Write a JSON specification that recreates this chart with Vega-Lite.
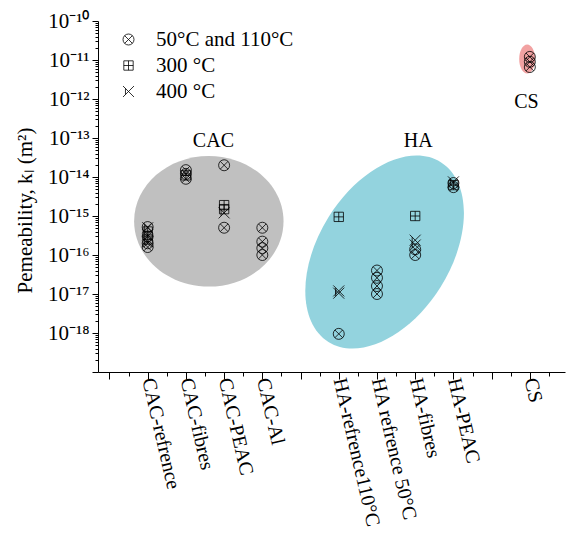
{
  "$schema": "https://vega.github.io/schema/vega-lite/v6.json",
  "autosize": "none",
  "padding": {"left": 98, "top": 21, "right": 1, "bottom": 162},
  "width": 467,
  "height": 351,
  "background": "white",
  "config": {
    "view": {"stroke": null},
    "font": "Liberation Serif",
    "axis": {"grid": false, "domainColor": "black", "tickColor": "black", "labelColor": "black", "titleColor": "black", "labelFont": "Liberation Serif", "titleFont": "Liberation Serif", "domainWidth": 1, "tickWidth": 1}
  },
  "encoding": {
    "x": {
      "field": "pos", "type": "quantitative",
      "scale": {"domain": [-0.3, 11.92], "nice": false, "zero": false},
      "axis": {
        "title": null,
        "values": [0, 0.5, 1, 1.5, 2, 2.5, 3, 3.5, 4, 4.5, 5, 5.5, 6, 6.5, 7, 7.5, 8, 8.5, 9, 9.5, 10, 10.5, 11, 11.5],
        "tickSize": {"condition": {"test": "datum.value % 1 === 0", "value": 7}, "value": 4},
        "labelExpr": "datum.value === 1 ? 'CAC-refrence' : datum.value === 2 ? 'CAC-fibres' : datum.value === 3 ? 'CAC-PEAC' : datum.value === 4 ? 'CAC-Al' : datum.value === 6 ? 'HA-refrence110°C' : datum.value === 7 ? 'HA refrence 50°C' : datum.value === 8 ? 'HA-fibres' : datum.value === 9 ? 'HA-PEAC' : datum.value === 11 ? 'CS' : ''",
        "labelAngle": 77,
        "labelAlign": "left",
        "labelBaseline": "middle",
        "labelPadding": -1,
        "labelFontSize": 20,
        "labelOverlap": false,
        "labelFlush": false
      }
    },
    "y": {
      "field": "k", "type": "quantitative",
      "scale": {"type": "log", "domain": [1e-19, 1e-10], "nice": false},
      "axis": {
        "title": "Pemeability, kₗ (m²)",
        "titleFontSize": 21,
        "titleFontWeight": "normal",
        "titlePadding": 12,
        "titleY": 189,
        "values": [1e-19, 2e-19, 3e-19, 4e-19, 5e-19, 6e-19, 7e-19, 8e-19, 9e-19,
                   1e-18, 2e-18, 3e-18, 4e-18, 5e-18, 6e-18, 7e-18, 8e-18, 9e-18,
                   1e-17, 2e-17, 3e-17, 4e-17, 5e-17, 6e-17, 7e-17, 8e-17, 9e-17,
                   1e-16, 2e-16, 3e-16, 4e-16, 5e-16, 6e-16, 7e-16, 8e-16, 9e-16,
                   1e-15, 2e-15, 3e-15, 4e-15, 5e-15, 6e-15, 7e-15, 8e-15, 9e-15,
                   1e-14, 2e-14, 3e-14, 4e-14, 5e-14, 6e-14, 7e-14, 8e-14, 9e-14,
                   1e-13, 2e-13, 3e-13, 4e-13, 5e-13, 6e-13, 7e-13, 8e-13, 9e-13,
                   1e-12, 2e-12, 3e-12, 4e-12, 5e-12, 6e-12, 7e-12, 8e-12, 9e-12,
                   1e-11, 2e-11, 3e-11, 4e-11, 5e-11, 6e-11, 7e-11, 8e-11, 9e-11, 1e-10],
        "tickSize": {"condition": {"test": "abs(log(datum.value)/LN10 - round(log(datum.value)/LN10)) < 0.01", "value": 6}, "value": 3},
        "labelExpr": "abs(log(datum.value)/LN10 - round(log(datum.value)/LN10)) < 0.01 && datum.value > 5e-19 ? '10⁻' + substring('⁰¹²³⁴⁵⁶⁷⁸⁹', floor(-round(log(datum.value)/LN10)/10), floor(-round(log(datum.value)/LN10)/10) + 1) + substring('⁰¹²³⁴⁵⁶⁷⁸⁹', (-round(log(datum.value)/LN10)) % 10, (-round(log(datum.value)/LN10)) % 10 + 1) : ''",
        "labelFontSize": 21,
        "labelPadding": 3,
        "labelOverlap": false,
        "labelFlush": false
      }
    }
  },
  "layer": [
    {
      "data": {"values": [{"group": "CAC", "pos": 2.6, "k": 7.3e-16}]},
      "mark": {"type": "point", "filled": true, "color": "#c0c0c0", "opacity": 1, "strokeWidth": 0, "size": 22320,
        "shape": "M1,0C1,0.483,0.552,0.874,0,0.874C-0.552,0.874,-1,0.483,-1,0C-1,-0.483,-0.552,-0.874,0,-0.874C0.552,-0.874,1,-0.483,1,0Z"}
    },
    {
      "data": {"values": [{"group": "HA", "pos": 7.2, "k": 1.19e-16}]},
      "mark": {"type": "point", "filled": true, "color": "#93d3de", "opacity": 1, "strokeWidth": 0, "size": 44944, "angle": 302,
        "shape": "M1,0C1,0.344,0.552,0.623,0,0.623C-0.552,0.623,-1,0.344,-1,0C-1,-0.344,-0.552,-0.623,0,-0.623C0.552,-0.623,1,-0.344,1,0Z"}
    },
    {
      "data": {"values": [{"group": "CS", "pos": 10.93, "k": 1.06e-11}]},
      "mark": {"type": "point", "filled": true, "color": "#f2a2a2", "opacity": 1, "strokeWidth": 0, "size": 841,
        "shape": "M0.55,0C0.55,0.552,0.304,1,0,1C-0.304,1,-0.55,0.552,-0.55,0C-0.55,-0.552,-0.304,-1,0,-1C0.304,-1,0.55,-0.552,0.55,0Z"}
    },
    {
      "data": {"values": [
        {"sample": "CAC-refrence", "pos": 1, "temp": "50°C and 110°C", "k": 5.2e-16},
        {"sample": "CAC-refrence", "pos": 1, "temp": "50°C and 110°C", "k": 3e-16},
        {"sample": "CAC-refrence", "pos": 1, "temp": "50°C and 110°C", "k": 2e-16},
        {"sample": "CAC-refrence", "pos": 1, "temp": "50°C and 110°C", "k": 1.6e-16},
        {"sample": "CAC-refrence", "pos": 1, "temp": "300 °C", "k": 4e-16},
        {"sample": "CAC-refrence", "pos": 1, "temp": "300 °C", "k": 2.5e-16},
        {"sample": "CAC-refrence", "pos": 1, "temp": "400 °C", "k": 5e-16},
        {"sample": "CAC-refrence", "pos": 1, "temp": "400 °C", "k": 3.3e-16},
        {"sample": "CAC-refrence", "pos": 1, "temp": "400 °C", "k": 2.2e-16},
        {"sample": "CAC-fibres", "pos": 2, "temp": "50°C and 110°C", "k": 1.5e-14},
        {"sample": "CAC-fibres", "pos": 2, "temp": "50°C and 110°C", "k": 1.2e-14},
        {"sample": "CAC-fibres", "pos": 2, "temp": "50°C and 110°C", "k": 9e-15},
        {"sample": "CAC-fibres", "pos": 2, "temp": "300 °C", "k": 1.1e-14},
        {"sample": "CAC-PEAC", "pos": 3, "temp": "50°C and 110°C", "k": 2e-14},
        {"sample": "CAC-PEAC", "pos": 3, "temp": "50°C and 110°C", "k": 5e-16},
        {"sample": "CAC-PEAC", "pos": 3, "temp": "300 °C", "k": 1.9e-15},
        {"sample": "CAC-PEAC", "pos": 3, "temp": "300 °C", "k": 1.5e-15},
        {"sample": "CAC-PEAC", "pos": 3, "temp": "400 °C", "k": 1.2e-15},
        {"sample": "CAC-Al", "pos": 4, "temp": "50°C and 110°C", "k": 5e-16},
        {"sample": "CAC-Al", "pos": 4, "temp": "50°C and 110°C", "k": 2.2e-16},
        {"sample": "CAC-Al", "pos": 4, "temp": "50°C and 110°C", "k": 1.5e-16},
        {"sample": "CAC-Al", "pos": 4, "temp": "50°C and 110°C", "k": 1e-16},
        {"sample": "HA-refrence110°C", "pos": 6, "temp": "300 °C", "k": 9.5e-16},
        {"sample": "HA-refrence110°C", "pos": 6, "temp": "400 °C", "k": 1.2e-17},
        {"sample": "HA-refrence110°C", "pos": 6, "temp": "400 °C", "k": 1.05e-17},
        {"sample": "HA-refrence110°C", "pos": 6, "temp": "50°C and 110°C", "k": 9.5e-19},
        {"sample": "HA refrence 50°C", "pos": 7, "temp": "50°C and 110°C", "k": 4e-17},
        {"sample": "HA refrence 50°C", "pos": 7, "temp": "50°C and 110°C", "k": 2.6e-17},
        {"sample": "HA refrence 50°C", "pos": 7, "temp": "50°C and 110°C", "k": 1.6e-17},
        {"sample": "HA refrence 50°C", "pos": 7, "temp": "50°C and 110°C", "k": 1e-17},
        {"sample": "HA-fibres", "pos": 8, "temp": "300 °C", "k": 1e-15},
        {"sample": "HA-fibres", "pos": 8, "temp": "400 °C", "k": 2.4e-16},
        {"sample": "HA-fibres", "pos": 8, "temp": "400 °C", "k": 1.8e-16},
        {"sample": "HA-fibres", "pos": 8, "temp": "50°C and 110°C", "k": 1.4e-16},
        {"sample": "HA-fibres", "pos": 8, "temp": "50°C and 110°C", "k": 1e-16},
        {"sample": "HA-PEAC", "pos": 9, "temp": "50°C and 110°C", "k": 7e-15},
        {"sample": "HA-PEAC", "pos": 9, "temp": "50°C and 110°C", "k": 5.5e-15},
        {"sample": "HA-PEAC", "pos": 9, "temp": "300 °C", "k": 6.2e-15},
        {"sample": "HA-PEAC", "pos": 9, "temp": "400 °C", "k": 7.5e-15},
        {"sample": "CS", "pos": 11, "temp": "50°C and 110°C", "k": 1.2e-11},
        {"sample": "CS", "pos": 11, "temp": "50°C and 110°C", "k": 9e-12},
        {"sample": "CS", "pos": 11, "temp": "50°C and 110°C", "k": 6.6e-12}
      ]},
      "mark": {"type": "point", "filled": false, "color": "black", "strokeWidth": 0.8, "opacity": 1, "size": 121},
      "encoding": {
        "shape": {
          "field": "temp", "type": "nominal",
          "scale": {
            "domain": ["50°C and 110°C", "300 °C", "400 °C"],
            "range": [
              "M1,0C1,0.552,0.552,1,0,1C-0.552,1,-1,0.552,-1,0C-1,-0.552,-0.552,-1,0,-1C0.552,-1,1,-0.552,1,0ZM-0.707,-0.707L0.707,0.707M-0.707,0.707L0.707,-0.707",
              "M-0.85,-0.85L0.85,-0.85L0.85,0.85L-0.85,0.85ZM0,-0.85L0,0.85M-0.85,0L0.85,0",
              "M-1,-1L1,1M-1,1L1,-1M-0.55,-0.55L-0.55,0.55"
            ]
          },
          "legend": {
            "title": null,
            "orient": "none",
            "legendX": 20,
            "legendY": 8,
            "padding": 0,
            "symbolSize": 121,
            "symbolStrokeColor": "black",
            "symbolFillColor": "transparent",
            "symbolStrokeWidth": 0.8,
            "labelFont": "Liberation Serif",
            "labelFontSize": 21,
            "labelColor": "black",
            "labelOffset": 17,
            "rowPadding": 4,
            "labelLimit": 300
          }
        }
      }
    },
    {
      "data": {"values": [
        {"label": "CAC", "pos": 2.72, "k": 8.4e-14},
        {"label": "HA", "pos": 8.08, "k": 8.4e-14},
        {"label": "CS", "pos": 10.91, "k": 8.4e-13}
      ]},
      "mark": {"type": "text", "font": "Liberation Serif", "fontSize": 20, "color": "black", "align": "center", "baseline": "middle"},
      "encoding": {"text": {"field": "label"}}
    },
    {
      "data": {"values": [{}]},
      "mark": {"type": "rule", "color": "black", "strokeWidth": 1},
      "encoding": {
        "x": {"datum": -0.3, "type": "quantitative"},
        "x2": {"datum": 11.92},
        "y": {"datum": 1e-10, "type": "quantitative"}
      }
    }
  ]
}
